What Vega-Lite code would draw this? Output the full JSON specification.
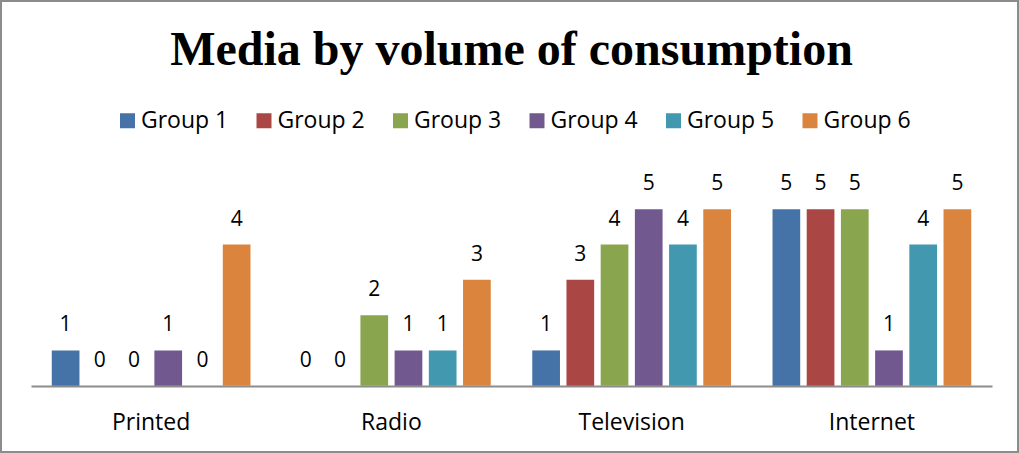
{
  "$schema": "https://vega.github.io/schema/vega-lite/v6.json",
  "width": 1017,
  "height": 451,
  "autosize": {"type": "none"},
  "padding": {"left": 1, "top": 1, "right": 1, "bottom": 1},
  "background": "white",
  "config": {"view": {"stroke": "#8c8c8c", "strokeWidth": 2}, "font": "Open Sans"},
  "title": {
    "text": "Media by volume of consumption",
    "font": "Liberation Serif",
    "fontSize": 48,
    "fontWeight": "bold",
    "color": "black",
    "anchor": "middle",
    "baseline": "alphabetic",
    "offset": -112,
    "dx": 2
  },
  "data": {
    "values": [
      {"media": "Printed", "group": "Group 1", "value": 1},
      {"media": "Printed", "group": "Group 2", "value": 0},
      {"media": "Printed", "group": "Group 3", "value": 0},
      {"media": "Printed", "group": "Group 4", "value": 1},
      {"media": "Printed", "group": "Group 5", "value": 0},
      {"media": "Printed", "group": "Group 6", "value": 4},
      {"media": "Radio", "group": "Group 1", "value": 0},
      {"media": "Radio", "group": "Group 2", "value": 0},
      {"media": "Radio", "group": "Group 3", "value": 2},
      {"media": "Radio", "group": "Group 4", "value": 1},
      {"media": "Radio", "group": "Group 5", "value": 1},
      {"media": "Radio", "group": "Group 6", "value": 3},
      {"media": "Television", "group": "Group 1", "value": 1},
      {"media": "Television", "group": "Group 2", "value": 3},
      {"media": "Television", "group": "Group 3", "value": 4},
      {"media": "Television", "group": "Group 4", "value": 5},
      {"media": "Television", "group": "Group 5", "value": 4},
      {"media": "Television", "group": "Group 6", "value": 5},
      {"media": "Internet", "group": "Group 1", "value": 5},
      {"media": "Internet", "group": "Group 2", "value": 5},
      {"media": "Internet", "group": "Group 3", "value": 5},
      {"media": "Internet", "group": "Group 4", "value": 1},
      {"media": "Internet", "group": "Group 5", "value": 4},
      {"media": "Internet", "group": "Group 6", "value": 5}
    ]
  },
  "encoding": {
    "x": {
      "field": "media",
      "type": "nominal",
      "sort": ["Printed", "Radio", "Television", "Internet"],
      "scale": {"range": [30, 991], "paddingInner": 0, "paddingOuter": 0},
      "axis": {
        "title": null,
        "orient": "bottom",
        "offset": -66,
        "domainColor": "#8c8c8c",
        "domainWidth": 2,
        "ticks": false,
        "tickSize": 0,
        "grid": false,
        "labelFont": "Open Sans",
        "labelFontSize": 23,
        "labelColor": "black",
        "labelPadding": 43,
        "labelBaseline": "alphabetic",
        "labelAngle": 0
      }
    },
    "xOffset": {
      "field": "group",
      "type": "nominal",
      "scale": {"paddingInner": 0.19, "paddingOuter": 0.607}
    },
    "y": {
      "field": "value",
      "type": "quantitative",
      "scale": {"domain": [-1.879, 10.904], "nice": false, "zero": false},
      "axis": null
    }
  },
  "layer": [
    {
      "mark": {"type": "bar"},
      "encoding": {
        "y2": {"datum": 0},
        "color": {
          "field": "group",
          "type": "nominal",
          "scale": {
            "domain": ["Group 1", "Group 2", "Group 3", "Group 4", "Group 5", "Group 6"],
            "range": ["#4572A7", "#AA4643", "#89A54E", "#71588F", "#4198AF", "#DB843D"]
          },
          "legend": {
            "orient": "none",
            "legendX": 115,
            "legendY": 108,
            "direction": "horizontal",
            "title": null,
            "symbolType": "square",
            "symbolSize": 225,
            "symbolStrokeWidth": 0,
            "symbolOpacity": 1,
            "labelFont": "Open Sans",
            "labelFontSize": 23,
            "labelColor": "black",
            "labelOffset": 2,
            "columnPadding": 23.5
          }
        }
      }
    },
    {
      "mark": {"type": "text", "baseline": "alphabetic", "dy": -19, "fontSize": 21, "font": "Open Sans", "color": "black"},
      "encoding": {"text": {"field": "value", "type": "quantitative"}}
    }
  ]
}
